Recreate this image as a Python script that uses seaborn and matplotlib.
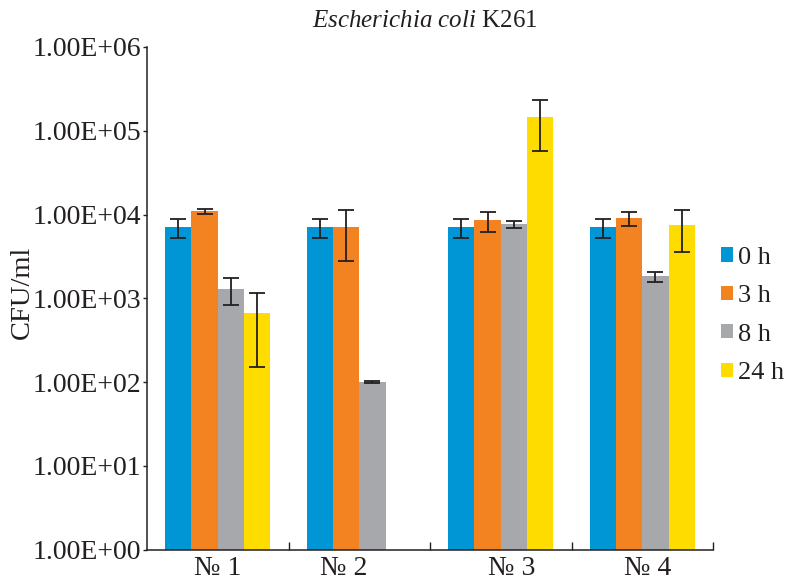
import numpy as np
import pandas as pd
import matplotlib
matplotlib.use("Agg")
import matplotlib.pyplot as plt
import matplotlib.transforms as mtransforms
from matplotlib.ticker import FixedLocator, FuncFormatter, NullLocator
from matplotlib.patches import Patch
import seaborn as sns

# ---- data ----
groups = ["№ 1", "№ 2", "№ 3", "№ 4"]
times = ["0 h", "3 h", "8 h", "24 h"]
cfu_0h = [7100, 7100, 7100, 7100]
cfu_3h = [10900, 7100, 8500, 9000]
cfu_8h = [1280, 100, 7600, 1820]
cfu_24h = [660, np.nan, 145000, 7400]
err_0h = [1800, 1800, 1800, 1800]
err_3h = [800, 4300, 2300, 1700]
err_8h = [450, 3, 700, 260]
err_24h = [510, np.nan, 88000, 3800]
y_ticks = [1e0, 1e1, 1e2, 1e3, 1e4, 1e5, 1e6]
title_italic = "Escherichia coli"
title_rest = "K261"
y_label = "CFU/ml"

colors = ["#0096D6", "#F38220", "#A7A8AB", "#FFDC00"]

values = [cfu_0h, cfu_3h, cfu_8h, cfu_24h]
errors = [err_0h, err_3h, err_8h, err_24h]
rows = []
for t, vals, errs in zip(times, values, errors):
    for g, v, e in zip(groups, vals, errs):
        rows.append({"group": g, "time": t, "cfu": v, "err": e})
df = pd.DataFrame(rows)

sns.set_style("ticks")
serif = ["Liberation Serif", "DejaVu Serif"]
plt.rcParams["font.family"] = serif
plt.rcParams["mathtext.fontset"] = "custom"
plt.rcParams["mathtext.it"] = "Liberation Serif:italic"
plt.rcParams["mathtext.rm"] = "Liberation Serif"

ink = "#231F20"
fig = plt.figure(figsize=(7.87, 5.81), dpi=100)
ax = fig.add_axes([147 / 787, 1 - 549.5 / 581, (713 - 147) / 787, (549.5 - 47) / 581])

dfp = df.dropna(subset=["cfu"])
sns.barplot(data=dfp, x="group", y="cfu", hue="time", order=groups, hue_order=times,
            palette=colors, width=0.745, errorbar=None, linewidth=0, saturation=1,
            ax=ax, legend=False)
ax.set_yscale("log")

# error bars on each bar, using seaborn's bar geometry
for t, cont in zip(times, ax.containers):
    sub_t = dfp[dfp["time"] == t].set_index("group")
    present = [g for g in groups if g in sub_t.index]
    errs = sub_t.loc[present, "err"].values
    xs = [p.get_x() + p.get_width() / 2 for p in cont.patches]
    hs = [p.get_height() for p in cont.patches]
    ax.errorbar(xs, hs, yerr=errs, fmt="none", ecolor=ink,
                elinewidth=1.3, capsize=5.6, capthick=1.3, zorder=5)

ax.set_ylim(1, 1e6)
ax.set_xlim(-0.5, 3.5)
ax.yaxis.set_major_locator(FixedLocator(y_ticks))
ax.yaxis.set_minor_locator(NullLocator())
ax.yaxis.set_major_formatter(FuncFormatter(lambda v, p: f"{v:.2E}"))
ax.tick_params(axis="y", which="major", direction="out", length=3, width=1.0,
               labelsize=20, pad=1, colors=ink)
ax.set_xticks(range(len(groups)))
ax.set_xticklabels(groups)
ax.xaxis.set_minor_locator(FixedLocator([0.5, 1.5, 2.5, 3.5]))
ax.tick_params(axis="x", which="major", length=0, labelsize=20, pad=5, colors=ink)
ax.tick_params(axis="x", which="minor", direction="in", length=6, width=1.0, color=ink)

# small label offsets as in the reference
offsets = [0, -16, 11, 5]
for lab, dx in zip(ax.get_xticklabels(), offsets):
    lab.set_transform(lab.get_transform() + mtransforms.ScaledTranslation(dx / 100, 0, fig.dpi_scale_trans))

for s in ["top", "right"]:
    ax.spines[s].set_visible(False)
for s in ["left", "bottom"]:
    ax.spines[s].set_linewidth(1.1)
    ax.spines[s].set_color(ink)
ax.set_xlabel("")
ax.set_ylabel("")

fig.text(22 / 787, 1 - 292.5 / 581, y_label, rotation=90, ha="center", va="center",
         fontsize=20.5, color=ink)
fig.text(425 / 787, 1 - 21 / 581, r"$\mathit{" + title_italic.replace(" ", r"\ ") + "}$ " + title_rest,
         ha="center", va="center", fontsize=18, color=ink)

handles = [Patch(facecolor=c, edgecolor="none", label=t) for c, t in zip(colors, times)]
fig.legend(handles=handles, loc="center left", bbox_to_anchor=(721 / 787, 1 - 315.5 / 581),
           frameon=False, fontsize=19, handlelength=0.45, handleheight=0.45,
           handletextpad=0.2, labelspacing=0.62, borderpad=0, borderaxespad=0,
           labelcolor=ink)

fig.savefig("out.png", dpi=100)
